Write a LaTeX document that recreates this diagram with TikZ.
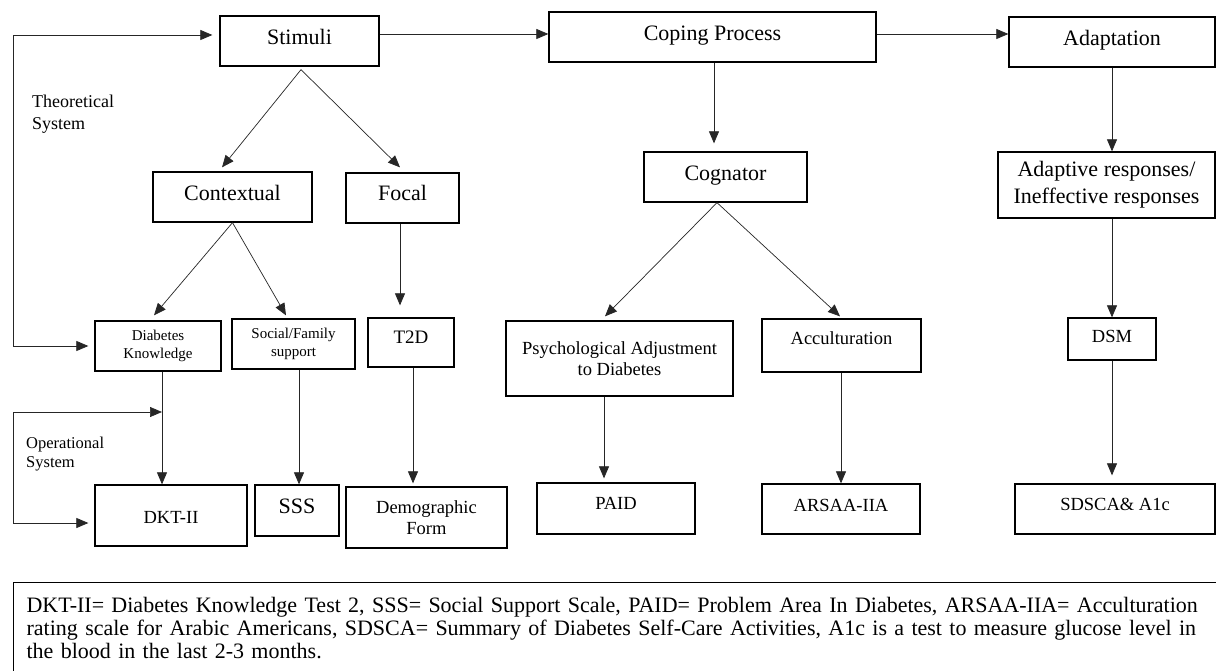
\documentclass[tikz,border=0pt]{standalone}
\usepackage{fontspec}
\setmainfont{Liberation Serif}
\usetikzlibrary{arrows.meta}
\tikzset{
  bx/.style={draw=black, line width=1.3pt, inner sep=0pt, align=center},
  lift/.style={text height=0.68em, text depth=#1},
  drop/.style={text height=0.68em+#1, text depth=0pt},
  arr/.style={draw=black!85, line width=0.7pt, -{Triangle[length=12pt,width=10pt]}},
  darr/.style={draw=black!85, line width=0.7pt, {Triangle[length=12pt,width=10pt]}-{Triangle[length=12pt,width=10pt]}},
  fbig/.style={font=\fontsize{22}{27}\selectfont},
  fmid/.style={font=\fontsize{18.5}{21}\selectfont},
  fsmall/.style={font=\fontsize{15}{17.5}\selectfont},
}
\begin{document}
\begin{tikzpicture}[x=1pt,y=-1pt]
\useasboundingbox[fill=white] (0,0) rectangle (1216,671);
% top row
\node[bx,fbig,lift=0pt,minimum width=159,minimum height=50] (stim) at (299.5,41) {Stimuli};
\node[bx,fbig,lift=0pt,minimum width=327,minimum height=50] (cope) at (712.5,37) {Coping Process};
\node[bx,fbig,lift=0pt,minimum width=206,minimum height=50] (adapt) at (1112,42) {Adaptation};
% second row
\node[bx,fbig,lift=0pt,minimum width=159,minimum height=50] (ctx) at (232.5,197) {Contextual};
\node[bx,fbig,lift=1pt,minimum width=113,minimum height=50] (focal) at (402.5,198) {Focal};
\node[bx,fbig,lift=0pt,minimum width=163,minimum height=50] (cog) at (725.5,177) {Cognator};
\node[bx,fbig,minimum width=217,minimum height=66] (adaptive) at (1106.5,185) {Adaptive responses/\\Ineffective responses};
% third row
\node[bx,fsmall,minimum width=126,minimum height=50] (dk) at (158,346) {Diabetes\\Knowledge};
\node[bx,fsmall,minimum width=123,minimum height=50] (soc) at (293.5,344) {Social/Family\\support};
\node[bx,font=\fontsize{19}{22}\selectfont,lift=5pt,minimum width=86,minimum height=49] (t2d) at (411,342.5) {T2D};
\node[bx,fmid,minimum width=227,minimum height=75] (psych) at (619.5,358.5) {Psychological Adjustment\\to Diabetes};
\node[bx,fmid,lift=9pt,minimum width=159,minimum height=53] (acc) at (841.5,345.5) {Acculturation};
\node[bx,fmid,lift=0pt,minimum width=88,minimum height=42] (dsm) at (1112,339) {DSM};
% bottom row
\node[bx,fmid,drop=9pt,minimum width=152,minimum height=61] (dkt) at (171,515.5) {DKT-II};
\node[bx,fbig,lift=0pt,minimum width=84,minimum height=51] (sss) at (297,510.5) {SSS};
\node[bx,fmid,minimum width=161,minimum height=61] (demo) at (426.5,517.5) {Demographic\\Form};
\node[bx,fmid,lift=5pt,minimum width=158,minimum height=51] (paid) at (616,508.5) {PAID};
\node[bx,fmid,lift=2pt,minimum width=158,minimum height=50] (arsaa) at (841,509) {ARSAA-IIA};
\node[bx,fmid,lift=4pt,minimum width=200,minimum height=50] (sdsca) at (1115,509) {SDSCA\& A1c};
% side labels
\node[anchor=north west,inner sep=0pt,align=left,font=\fontsize{18}{22}\selectfont] (theo) at (32,95) {Theoretical\\System};
\node[anchor=north west,inner sep=0pt,align=left,font=\fontsize{16.5}{19}\selectfont] (oper) at (26,436.5) {Operational\\System};
% legend
\node[draw=black,line width=1.2pt,anchor=north west,inner xsep=13pt,inner ysep=15pt,text width=1300pt,align=left,font=\fontsize{22}{23}\selectfont] (legend) at (13,582)
{DKT-II= Diabetes Knowledge Test 2, SSS= Social Support Scale, PAID= Problem Area In Diabetes, ARSAA-IIA= Acculturation\\
rating scale for Arabic Americans, SDSCA= Summary of Diabetes Self-Care Activities, A1c is a test to measure glucose level in\\
the blood in the last 2-3 months.};
% free corner coordinates
\coordinate (tl) at (13,35);
\coordinate (bl) at (13,346);
\coordinate (ot) at (13,412);
\coordinate (ob) at (13,523);
\coordinate (y34) at (0,34);
% connectors
\draw[arr] (stim.east |- y34) -- (cope.west |- y34);
\draw[arr] (cope.east |- y34) -- (adapt.west |- y34);
\draw[darr] ([xshift=-7pt]stim.west |- tl) -- (tl) -- (bl) -- ([xshift=-6pt]dk.west |- bl);
\draw[arr] ([xshift=1.5pt,yshift=-3pt]stim.south) -- ([xshift=-10.5pt,yshift=4pt]ctx.north);
\draw[arr] ([xshift=1.5pt,yshift=-3pt]stim.south) -- ([xshift=-2.5pt,yshift=5pt]focal.north);
\draw[arr] (ctx.south) -- ([xshift=-4pt,yshift=5pt]dk.north);
\draw[arr] (ctx.south) -- ([xshift=-7.5pt,yshift=3pt]soc.north);
\draw[arr] ([xshift=-2.5pt]focal.south) -- ([xshift=-11pt,yshift=12pt]t2d.north);
\draw[arr] ([xshift=1.5pt]cope.south) -- ([xshift=-11.5pt,yshift=8pt]cog.north);
\draw[arr] ([xshift=-8.5pt]cog.south) -- ([xshift=-14.5pt,yshift=4pt]psych.north);
\draw[arr] ([xshift=-8.5pt]cog.south) -- ([xshift=-1.5pt,yshift=2pt]acc.north);
\draw[arr] (adapt.south) -- (adapt.south |- adaptive.north);
\draw[arr] (dsm.north |- adaptive.south) -- (dsm.north);
\draw[arr] ([xshift=4pt]dk.south) -- ([xshift=4pt]dk.south |- dkt.north);
\draw[darr] ([xshift=4pt]dk.south |- ot) -- (ot) -- (ob) -- ([xshift=-6pt]dkt.west |- ob);
\draw[arr] ([xshift=2pt]sss.north |- soc.south) -- ([xshift=2pt]sss.north);
\draw[arr] ([xshift=2pt]t2d.south) -- ([xshift=2pt,yshift=3pt]t2d.south |- demo.north);
\draw[arr] ([xshift=-15.5pt]psych.south) -- ([xshift=-15.5pt,yshift=4pt]psych.south |- paid.north);
\draw[arr] (arsaa.north |- acc.south) -- (arsaa.north);
\draw[arr] (dsm.south) -- ([yshift=8pt]dsm.south |- sdsca.north);
\end{tikzpicture}
\end{document}
